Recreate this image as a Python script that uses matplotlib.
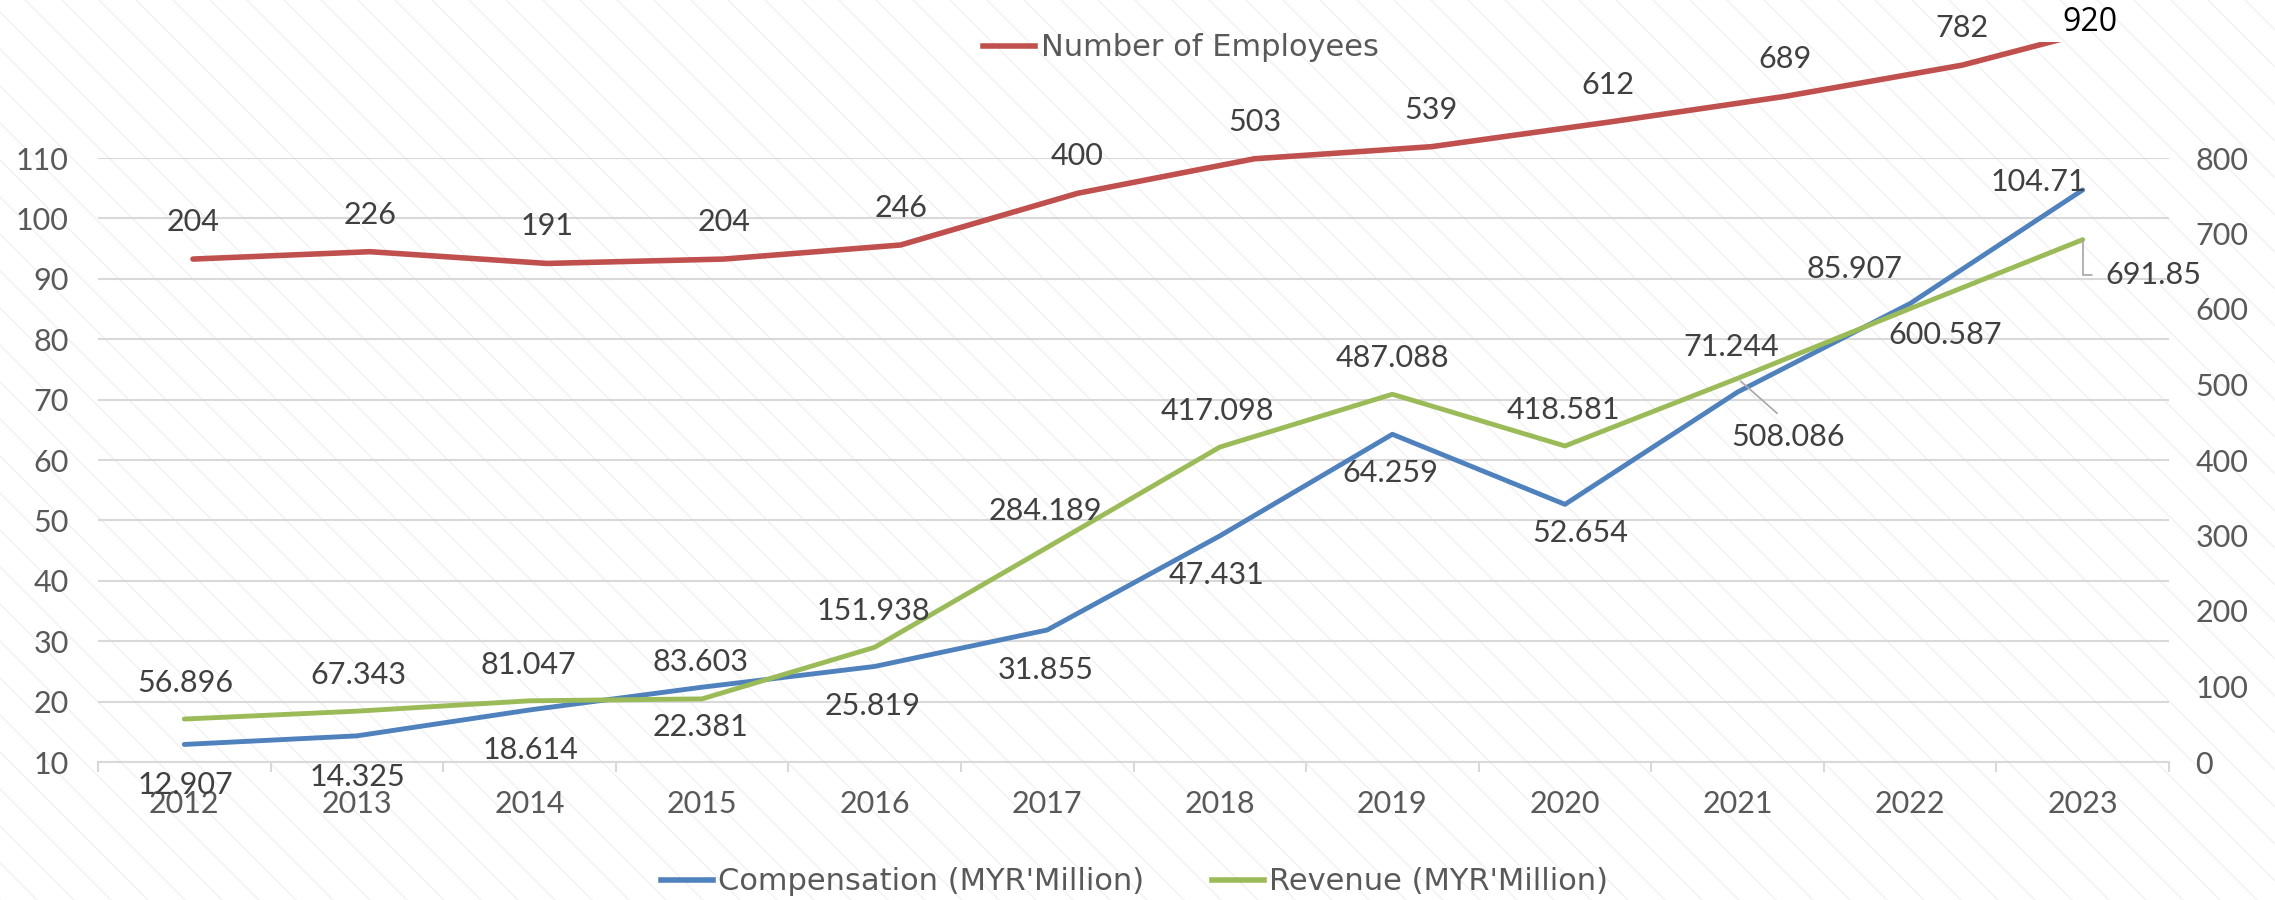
import numpy as np
import matplotlib
matplotlib.use("Agg")
import matplotlib.pyplot as plt
from matplotlib.lines import Line2D

plt.rcParams['font.family'] = ['Lato', 'DejaVu Sans']

years = ['2012', '2013', '2014', '2015', '2016', '2017',
         '2018', '2019', '2020', '2021', '2022', '2023']
compensation = [12.907, 14.325, 18.614, 22.381, 25.819, 31.855,
                47.431, 64.259, 52.654, 71.244, 85.907, 104.71]
revenue = [56.896, 67.343, 81.047, 83.603, 151.938, 284.189,
           417.098, 487.088, 418.581, 508.086, 600.587, 691.85]
employees = [204, 226, 191, 204, 246, 400, 503, 539, 612, 689, 782, 920]

left_ticks = list(range(10, 111, 10))
right_ticks = list(range(0, 801, 100))

BLUE = '#4F81BD'
GREEN = '#9BBB59'
RED = '#C0504D'
GRID = '#d9d9d9'
TICK_TXT = '#595959'
LABEL_TXT = '#404040'

W, H = 2275, 900
fig = plt.figure(figsize=(W / 100, H / 100), dpi=100)


def box(l, t, r, b):
    # pixel box -> figure fraction
    return [l / W, 1 - b / H, (r - l) / W, (b - t) / H]


# faint diagonal stripes in the background
bg = fig.add_axes([0, 0, 1, 1], zorder=0)
bg.set_xlim(0, W)
bg.set_ylim(H, 0)
bg.axis('off')
for x0 in np.arange(-H, W, 37):
    bg.plot([x0, x0 + H], [0, H], color='#f1f1f1', lw=1.0)

x = np.arange(len(years))

# main axes: compensation (left)
ax = fig.add_axes(box(98, 158, 2169, 762), zorder=1)
ax.patch.set_visible(False)
ax.set_xlim(-0.5, len(years) - 0.5)
ax.set_ylim(10, 110)
ax.set_yticks(left_ticks)
ax.grid(axis='y', color=GRID, lw=1.5)
ax.set_axisbelow(True)
for s in ['top', 'left', 'right']:
    ax.spines[s].set_visible(False)
ax.spines['bottom'].set_color(GRID)
ax.spines['bottom'].set_linewidth(1.5)
ax.tick_params(axis='y', length=0, pad=21, labelsize=22, labelcolor=TICK_TXT)
ax.set_xticks(np.arange(-0.5, len(years), 1))
ax.set_xticklabels([])
ax.tick_params(axis='x', which='major', length=7, width=1.5, color=GRID)
ax.set_xticks(x, minor=True)
ax.set_xticklabels(years, minor=True)
ax.tick_params(axis='x', which='minor', length=0, pad=20, labelsize=22,
               labelcolor=TICK_TXT)

comp_line, = ax.plot(x, compensation, color=BLUE, lw=3.5,
                     solid_joinstyle='round', solid_capstyle='round')

# revenue (right)
ax2 = ax.twinx()
ax2.set_ylim(0, 800)
ax2.set_yticks(right_ticks)
for s in ax2.spines.values():
    s.set_visible(False)
ax2.tick_params(axis='y', length=0, pad=19, labelsize=22, labelcolor=TICK_TXT)
rev_line, = ax2.plot(x, revenue, color=GREEN, lw=3.5,
                     solid_joinstyle='round', solid_capstyle='round')

# employees sit on their own hidden scale
ax3 = fig.add_axes(box(104.5, 42, 2227.5, 762), zorder=3)
ax3.axis('off')
ax3.set_xlim(-0.5, len(years) - 0.5)
ax3.set_ylim(-1295, 851)
emp_line, = ax3.plot(x, employees, color=RED, lw=4,
                     solid_joinstyle='round', solid_capstyle='round')

# data labels (offsets in pixels)
comp_off = [(1, -41), (1, -41), (1, -40), (-2, -40), (-2, -40), (-2, -40),
            (-3, -39), (-2, -39), (15, -29), (-6, 45), (-56, 35), (-44, 8)]
rev_off = [(1, 36), (1, 36), (-1, 36), (-2, 37), (-1, 36), (-2, 36),
           (-2, 36), (0, 36), (-2, 36), (51, -59), (35, -26), (71, -35)]

for xi, v, off in zip(x, compensation, comp_off):
    ax.annotate(f'{v:g}', (xi, v), xytext=off, textcoords='offset pixels',
                ha='center', va='center', fontsize=22, color=LABEL_TXT,
                annotation_clip=False)

for i, (xi, v, off) in enumerate(zip(x, revenue, rev_off)):
    kw = {}
    if i == 9:
        kw['arrowprops'] = dict(arrowstyle='-', color='#a6a6a6', lw=1.2,
                                relpos=(0.5, 1.0), shrinkA=8, shrinkB=3)
    elif i == 11:
        kw['arrowprops'] = dict(arrowstyle='-', color='#a6a6a6', lw=1.2,
                                relpos=(0.0, 0.5), shrinkA=8, shrinkB=0,
                                connectionstyle='angle,angleA=0,angleB=90,rad=0')
    ax2.annotate(f'{v:g}', (xi, v), xytext=off, textcoords='offset pixels',
                 ha='center', va='center', fontsize=22, color=LABEL_TXT,
                 annotation_clip=False, **kw)

for i, (xi, v) in enumerate(zip(x, employees)):
    if i == len(employees) - 1:
        ax3.annotate(str(v), (xi, v), xytext=(-49, -4), textcoords='offset pixels',
                     ha='center', va='center', fontsize=23, color='black',
                     family='Open Sans', annotation_clip=False)
    else:
        ax3.annotate(str(v), (xi, v), xytext=(0, 37), textcoords='offset pixels',
                     ha='center', va='center', fontsize=22, color=LABEL_TXT,
                     annotation_clip=False)

# legends
leg_font = {'family': 'DejaVu Sans', 'size': 22}
h_emp = Line2D([], [], color=RED, lw=4)
h_comp = Line2D([], [], color=BLUE, lw=4)
h_rev = Line2D([], [], color=GREEN, lw=4)
fig.legend([h_emp], ['Number of Employees'], loc='center',
           bbox_to_anchor=(1181 / W, 1 - 48 / H), frameon=False, prop=leg_font,
           handlelength=1.7, handletextpad=0.17, labelcolor=TICK_TXT)
fig.legend([h_comp, h_rev], ["Compensation (MYR'Million)", "Revenue (MYR'Million)"],
           loc='center', bbox_to_anchor=(1134.5 / W, 1 - 882 / H), ncol=2,
           frameon=False, prop=leg_font, handlelength=1.7, handletextpad=0.17,
           columnspacing=2.2, labelcolor=TICK_TXT)

fig.savefig('out.png', dpi=100)
